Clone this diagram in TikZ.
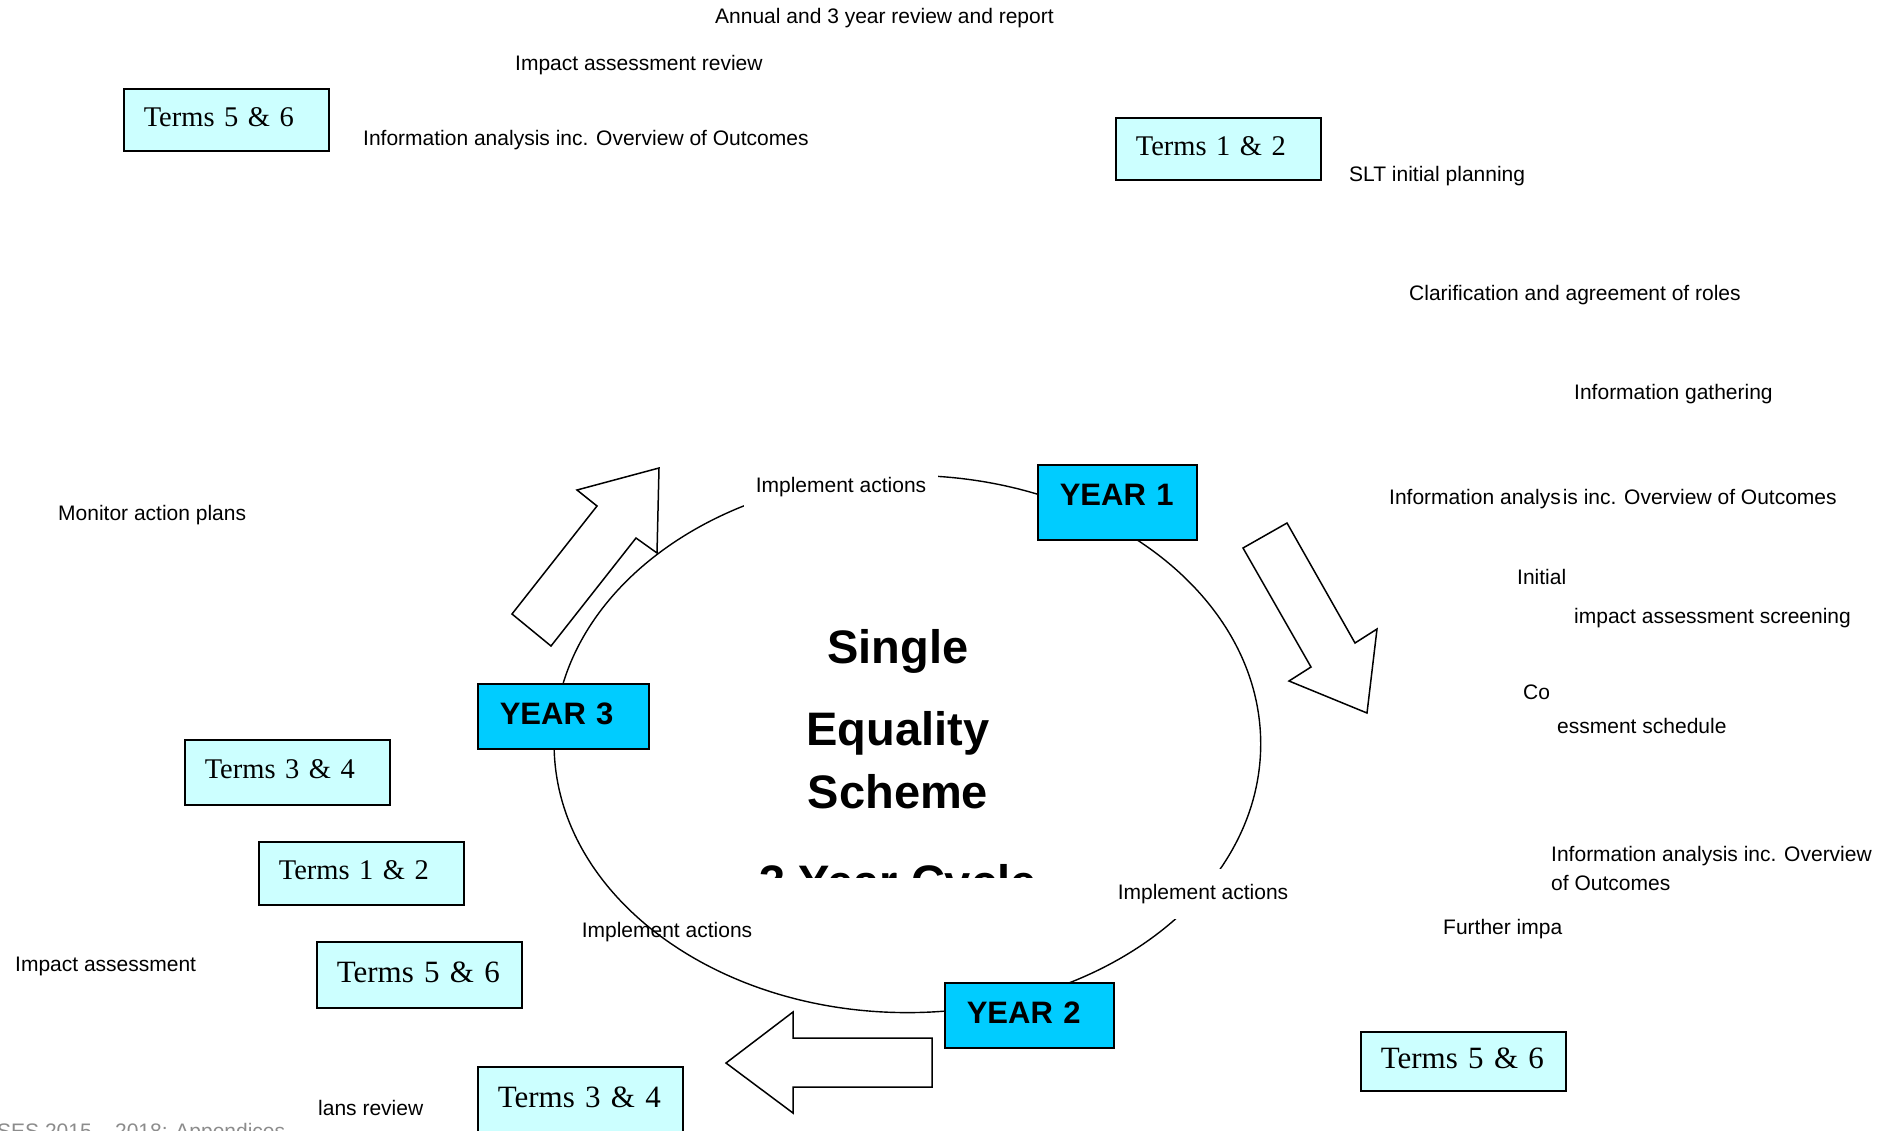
\documentclass[tikz,border=0pt]{standalone}
\usepackage{fontspec}
\setmainfont{Liberation Sans}
\newfontfamily\termfont{Liberation Serif}
\definecolor{termfill}{HTML}{CCFFFF}
\definecolor{yearfill}{HTML}{00CCFF}
\definecolor{footgrey}{HTML}{8C8C8C}
\begin{document}
\begin{tikzpicture}[x=1pt,y=-1pt,
  lbl/.style={font=\fontsize{21}{25}\selectfont, inner sep=0pt, anchor=base west},
  actlbl/.style={font=\fontsize{21}{25}\selectfont, inner sep=0pt, minimum width=194pt, minimum height=50pt},
  termbox/.style={draw=black, line width=1.6pt, fill=termfill, anchor=north west,
    inner xsep=20pt, inner ysep=0pt, text width=165pt, align=left, text depth=6pt},
  termsmall/.style={termbox, font=\termfont\fontsize{28.5}{34}\selectfont},
  termbig/.style={termbox, font=\termfont\fontsize{31}{36}\selectfont},
  yearbox/.style={draw=black, line width=1.6pt, fill=yearfill, anchor=north west,
    inner xsep=22pt, inner ysep=0pt, align=left, font=\bfseries\fontsize{31}{36}\selectfont},
  centre/.style={font=\bfseries\fontsize{47}{52}\selectfont, inner sep=0pt, anchor=base},
  blockarrow/.style={draw=black, line width=1.5pt, fill=white, line join=miter}
]
\useasboundingbox (0,0) rectangle (1897,1130);

% label that lies under the ring
\node[actlbl] (act3) at (667,932) {Implement actions};

% the ring
\draw[line width=1.4pt] (907.4,744) ellipse [x radius=353.3pt, y radius=268.6pt];

% labels that mask the ring
\node[actlbl, fill=white] (act1) at (841,487) {Implement actions};
\node[actlbl, fill=white] (act2) at (1203,894) {Implement actions};

% year boxes
\node[yearbox, minimum height=75pt, text width=115pt, text depth=14pt] (y1) at (1037,464) {YEAR 1};
\node[yearbox, minimum height=65pt, text width=125pt, text depth=5pt] (y2) at (944,982) {YEAR 2};
\node[yearbox, minimum height=65pt, text width=127pt, text depth=5pt] (y3) at (477,683) {YEAR 3};

% block arrows
\draw[blockarrow] (659,468) -- (577,490) -- (597,506) -- (512,614) -- (551,646) -- (636,538) -- (657,553) -- cycle;
\draw[blockarrow] (1243,548) -- (1287,523) -- (1355,643) -- (1377,629) -- (1367,713) -- (1289,681) -- (1311,667) -- cycle;
\draw[blockarrow] (726,1063) -- (793,1012) -- (793,1038) -- (932,1038) -- (932,1087) -- (793,1087) -- (793,1113) -- cycle;

% centre title
\node[centre] (c1) at (898,663) {Single};
\node[centre] (c2) at (898,745) {Equality};
\node[centre] (c3) at (898,808) {Scheme};
\begin{scope}
  \clip (600,800) rectangle (1200,877);
  \node[centre] (c4) at (898,898) {3 Year Cycle};
\end{scope}

% term boxes
\node[termsmall, minimum height=62pt] (tA) at (123,88) {\mbox{Terms 5 \& 6}};
\node[termsmall, minimum height=62pt] (tB) at (1115,117) {\mbox{Terms 1 \& 2}};
\node[termsmall, minimum height=65pt] (tC) at (184,739) {\mbox{Terms 3 \& 4}};
\node[termsmall, minimum height=63pt] (tD) at (258,841) {\mbox{Terms 1 \& 2}};
\node[termbig, minimum height=66pt] (tE) at (316,941) {\mbox{Terms 5 \& 6}};
\node[termbig, minimum height=66pt] (tF) at (477,1066) {\mbox{Terms 3 \& 4}};
\node[termbig, minimum height=59pt] (tG) at (1360,1031) {\mbox{Terms 5 \& 6}};

% free text
\node[lbl] (l1) at (715,23) {Annual and 3 year review and report};
\node[lbl] (l2) at (515,70) {Impact assessment review};
\node[lbl] (l3) at (363,145) {Information analysis inc. Overview of Outcomes};
\node[lbl] (l4) at (1349,181) {SLT initial planning};
\node[lbl] (l5) at (1409,300) {Clarification and agreement of roles};
\node[lbl] (l6) at (1574,399) {Information gathering};
\node[lbl] (l7) at (58,520) {Monitor action plans};
\node[lbl] (l8) at (1389,504) {Information analys\kern2pt is inc. Overview of Outcomes};
\node[lbl] (l9) at (1517,584) {Initial};
\node[lbl] (l10) at (1574,623) {impact assessment screening};
\node[lbl] (l11) at (1523,699) {Co};
\node[lbl] (l12) at (1557,733) {essment schedule};
\node[lbl] (l13) at (1551,861) {Information analysis inc. Overview};
\node[lbl] (l14) at (1551,890) {of Outcomes};
\node[lbl] (l15) at (1443,934) {Further impa};
\node[lbl] (l16) at (15,971) {Impact assessment};
\node[lbl] (l17) at (318,1115) {lans review};
\node[lbl, text=footgrey] (foot) at (-3,1138) {SES 2015 – 2018: Appendices};
\end{tikzpicture}
\end{document}
